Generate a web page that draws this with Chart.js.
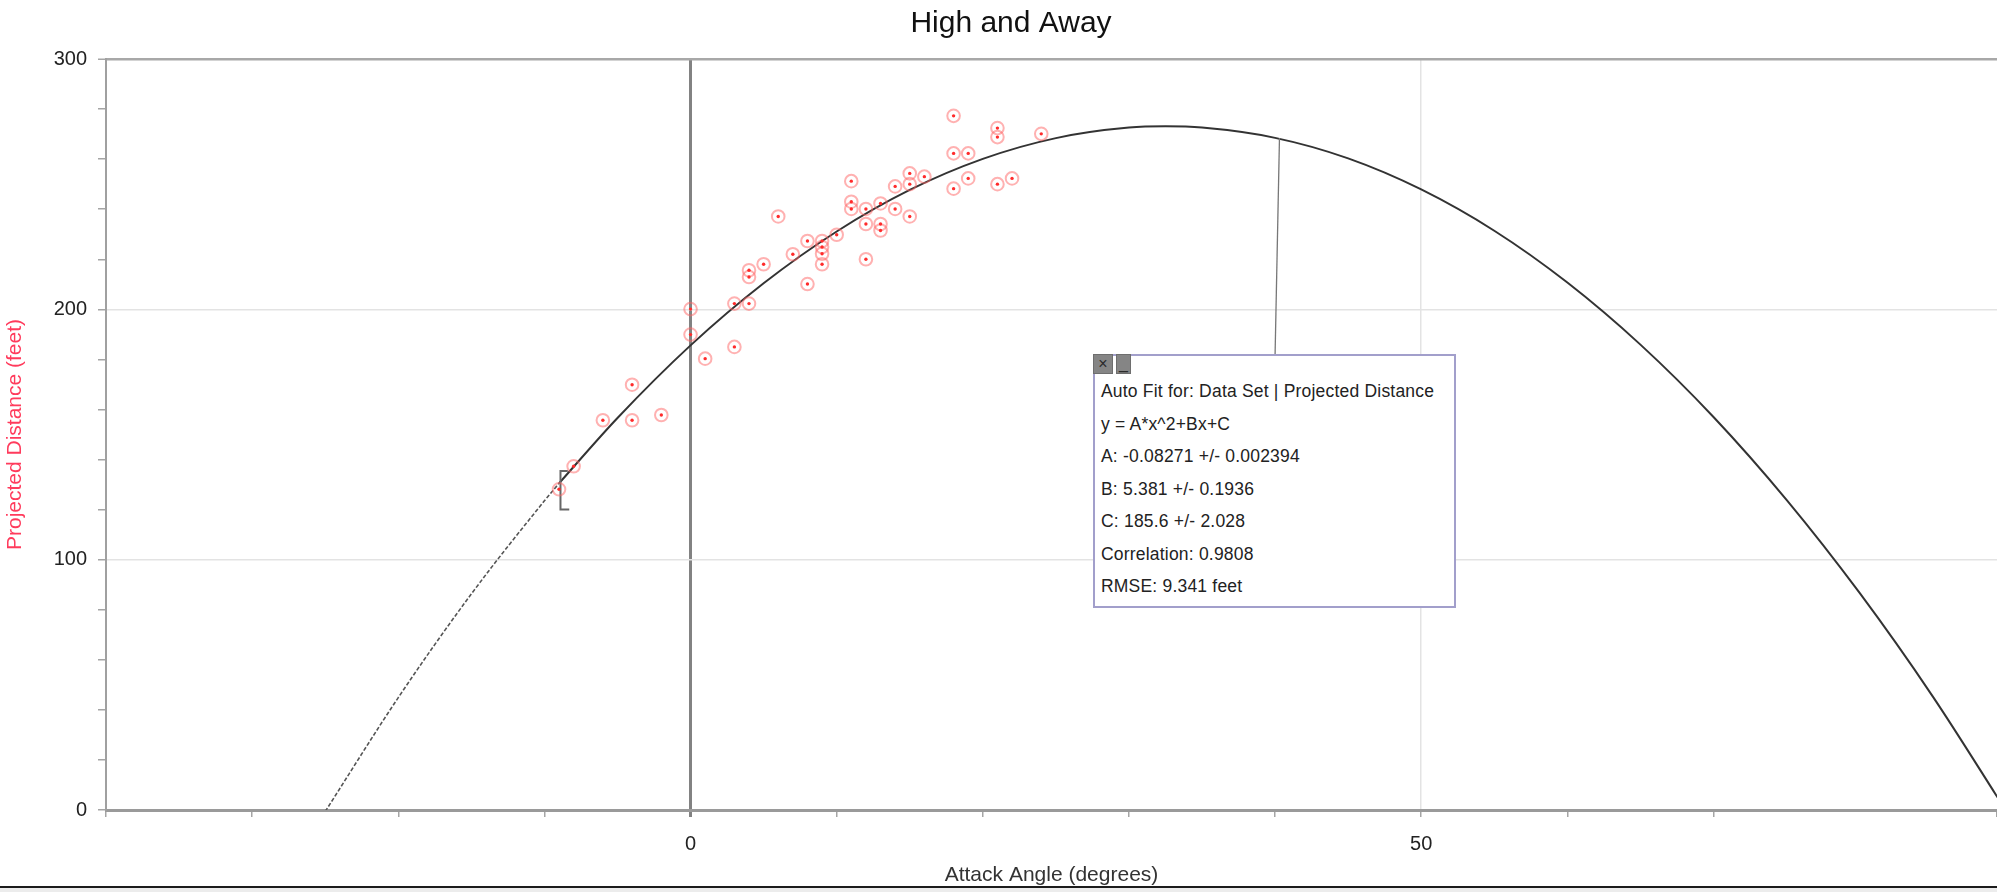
<!DOCTYPE html>
<html>
<head>
<meta charset="utf-8">
<title>High and Away</title>
<script src="https://cdn.jsdelivr.net/npm/chart.js@4.4.0/dist/chart.umd.min.js"></script>
<style>
  html, body { margin: 0; padding: 0; background: #fff; overflow: hidden; }
  #wrap { position: relative; width: 1997px; height: 886px; }
  #bottom-bar { height: 4px; border-top: 2px solid #1c1c1c; background: #ececec; }
  .fit-box {
    position: absolute; left: 1093px; top: 354px; width: 353px; height: 231px;
    padding: 19px 0 0 6px;
    border: 2px solid #a29fcb; background: #fff;
    font-family: 'Liberation Sans', Arial, sans-serif; font-size: 17.5px; color: #222;
    letter-spacing: 0.2px;
  }
  .fit-box div.line { line-height: 32.5px; white-space: nowrap; }
  .fit-box .btn {
    position: absolute; top: -2px; height: 20px; background: #858585; color: #2a2a2a;
    font-size: 16px; line-height: 18px; text-align: center; border: 1px solid #6e6e6e; box-sizing: border-box;
  }
</style>
</head>
<body>
<div id="wrap">
  <canvas id="myChart" width="1997" height="886"></canvas>
  <div class="fit-box">
    <span class="btn" style="left:-2px;width:20px;">×</span>
    <span class="btn" style="left:21px;width:15px;">_</span>
    <div class="line">Auto Fit for: Data Set | Projected Distance</div>
    <div class="line">y = A*x^2+Bx+C</div>
    <div class="line">A: -0.08271 +/- 0.002394</div>
    <div class="line">B: 5.381 +/- 0.1936</div>
    <div class="line">C: 185.6 +/- 2.028</div>
    <div class="line">Correlation: 0.9808</div>
    <div class="line">RMSE: 9.341 feet</div>
  </div>
</div>
<div id="bottom-bar"></div>
<script>
'use strict';

// measured swings: attack angle (degrees) and projected distance (feet)
const attackAngles = [18, 21, 21, 24, 18, 19, 15, 16, 15, 14, 19, 21, 22, 18, 11, 11, 11, 12, 13, 14,
  15, 12, 13, 13, 6, 10, 8, 9, 9, 9, 9, 7, 12, 5, 4, 4, 8, 3, 4, 0, 0, 3, 1, -4, -6, -4, -2, -8, -9];
const projectedDistances = [277.3, 272.4, 268.8, 270.1, 262.3, 262.3, 254.3, 253.0, 250.0, 249.1,
  252.3, 250.0, 252.3, 248.2, 251.2, 243.0, 240.1, 240.1, 242.3, 240.1, 237.1, 234.1, 234.1, 231.5,
  237.1, 229.8, 227.3, 227.3, 224.9, 222.2, 218.0, 222.0, 220.0, 218.0, 215.6, 212.9, 210.1, 202.3,
  202.3, 200.1, 189.9, 185.0, 180.3, 169.9, 155.7, 155.7, 157.8, 137.3, 128.1];

// auto fit curve
const fitAngles = [-25, -20, -15, -10, -9, -5, 0, 5, 10, 15, 20, 25, 30, 32.5, 35, 40, 45, 50, 55,
  60, 65, 70, 75, 80, 85, 90];
const fitDistances = [-0.6, 44.9, 86.3, 123.5, 130.5, 156.6, 185.6, 210.4, 231.1, 247.7, 260.1,
  268.4, 272.6, 273.1, 272.6, 268.5, 260.3, 247.9, 231.4, 210.7, 185.9, 157.0, 123.9, 86.7, 45.4, -0.1];
const fitStartAngle = -9; // first data point, curve is dashed before this

// selection bracket at the first point and the line from curve to the fit box
const bracketAngles = [-8.4, -8.9, -8.9, -8.3];
const bracketDistances = [135.4, 135.4, 120.0, 120.0];
const leaderAngles = [40.3, 40.0];
const leaderDistances = [268.4, 182.0];

const xTickLabels = [0, 50];
const yTickLabels = [0, 100, 200, 300];

const fontFamily = "'Liberation Sans', Arial, sans-serif";

function toPoints(xs, ys) {
  return xs.map((x, i) => ({ x: x, y: ys[i] }));
}

let fitPoints = toPoints(fitAngles, fitDistances);
let dashedPart = fitPoints.filter(p => p.x <= fitStartAngle);
let solidPart = fitPoints.filter(p => p.x >= fitStartAngle);
let swingPoints = toPoints(attackAngles, projectedDistances);

// title sits a bit right of the window centre in the original
const titleShift = {
  id: 'titleShift',
  afterLayout(chart) {
    if (chart.titleBlock) {
      chart.titleBlock.left += 25;
    }
  }
};

let ctx = document.getElementById('myChart');
let myChart = new Chart(ctx, {
  type: 'scatter',
  data: {
    datasets: [
      {
        label: 'dots',
        data: swingPoints,
        pointRadius: 1.7,
        pointBackgroundColor: '#ff2b2b',
        pointBorderWidth: 0,
        order: 0
      },
      {
        label: 'rings',
        data: swingPoints,
        pointRadius: 6.3,
        pointBackgroundColor: 'rgba(255,255,255,0)',
        pointBorderColor: 'rgba(255, 100, 100, 0.5)',
        pointBorderWidth: 2,
        order: 1
      },
      {
        label: 'fit',
        type: 'line',
        data: solidPart,
        borderColor: '#333',
        borderWidth: 2,
        pointRadius: 0,
        cubicInterpolationMode: 'monotone',
        order: 3
      },
      {
        label: 'fit extrapolated',
        type: 'line',
        data: dashedPart,
        borderColor: '#555',
        borderWidth: 1.6,
        borderDash: [4, 2],
        pointRadius: 0,
        cubicInterpolationMode: 'monotone',
        order: 3
      },
      {
        label: 'bracket',
        type: 'line',
        data: toPoints(bracketAngles, bracketDistances),
        borderColor: '#666',
        borderWidth: 2,
        pointRadius: 0,
        order: 2
      },
      {
        label: 'leader',
        type: 'line',
        data: toPoints(leaderAngles, leaderDistances),
        borderColor: '#777',
        borderWidth: 1.3,
        pointRadius: 0,
        order: 2
      }
    ]
  },
  plugins: [titleShift],
  options: {
    responsive: false,
    animation: false,
    layout: { padding: 0, autoPadding: false },
    plugins: {
      legend: { display: false },
      tooltip: { enabled: false },
      title: {
        display: true,
        text: 'High and Away',
        color: '#111',
        font: { family: fontFamily, size: 30, weight: 'normal', lineHeight: 1.2 },
        padding: { top: 6, bottom: 17 }
      }
    },
    scales: {
      x: {
        type: 'linear',
        min: -40,
        max: 89.4,
        // plot runs right up to the window edge
        afterFit: scale => {
          scale.height = 76;
          scale.paddingLeft = 0;
          scale.paddingRight = 0;
        },
        border: { color: '#9a9a9a', width: 3 },
        grid: {
          color: c => c.tick && c.tick.value === 0 ? '#828282' : (c.tick && c.tick.value === 50 ? '#e3e3e3' : 'rgba(0,0,0,0)'),
          lineWidth: c => c.tick && c.tick.value === 0 ? 3 : 1.5,
          tickColor: c => c.tick && c.tick.value === 0 ? '#828282' : '#a5a5a5',
          tickWidth: c => c.tick && c.tick.value === 0 ? 3 : 1.5,
          tickLength: 7
        },
        ticks: {
          stepSize: 10,
          autoSkip: false,
          maxRotation: 0,
          padding: 0,
          color: '#222',
          // tall line box pushes the labels down without side padding
          font: { family: fontFamily, size: 20, lineHeight: 2.7 },
          callback: v => xTickLabels.includes(v) ? String(v) : ''
        },
        title: {
          display: true,
          text: 'Attack Angle (degrees)',
          color: '#333',
          font: { family: fontFamily, size: 21, lineHeight: 1 },
          padding: { top: 0, bottom: 0 }
        }
      },
      y: {
        type: 'linear',
        min: 0,
        max: 300,
        afterFit: scale => { scale.width = 106; },
        border: { color: '#a0a0a0', width: 2 },
        grid: {
          color: c => {
            if (!c.tick) return 'rgba(0,0,0,0)';
            if (c.tick.value === 300) return '#a8a8a8';
            if (c.tick.value === 100 || c.tick.value === 200) return '#e3e3e3';
            return 'rgba(0,0,0,0)';
          },
          lineWidth: c => c.tick && c.tick.value === 300 ? 2.5 : 1.5,
          tickColor: '#a5a5a5',
          tickWidth: 1.5,
          tickLength: 8
        },
        ticks: {
          stepSize: 20,
          autoSkip: false,
          padding: 11,
          color: '#222',
          font: { family: fontFamily, size: 20 },
          callback: v => yTickLabels.includes(v) ? String(v) : ''
        },
        title: {
          display: true,
          text: 'Projected Distance (feet)',
          color: '#ff3b5c',
          font: { family: fontFamily, size: 21, lineHeight: 1 },
          padding: { top: 5, bottom: 0 }
        }
      }
    }
  }
});
</script>
</body>
</html>
